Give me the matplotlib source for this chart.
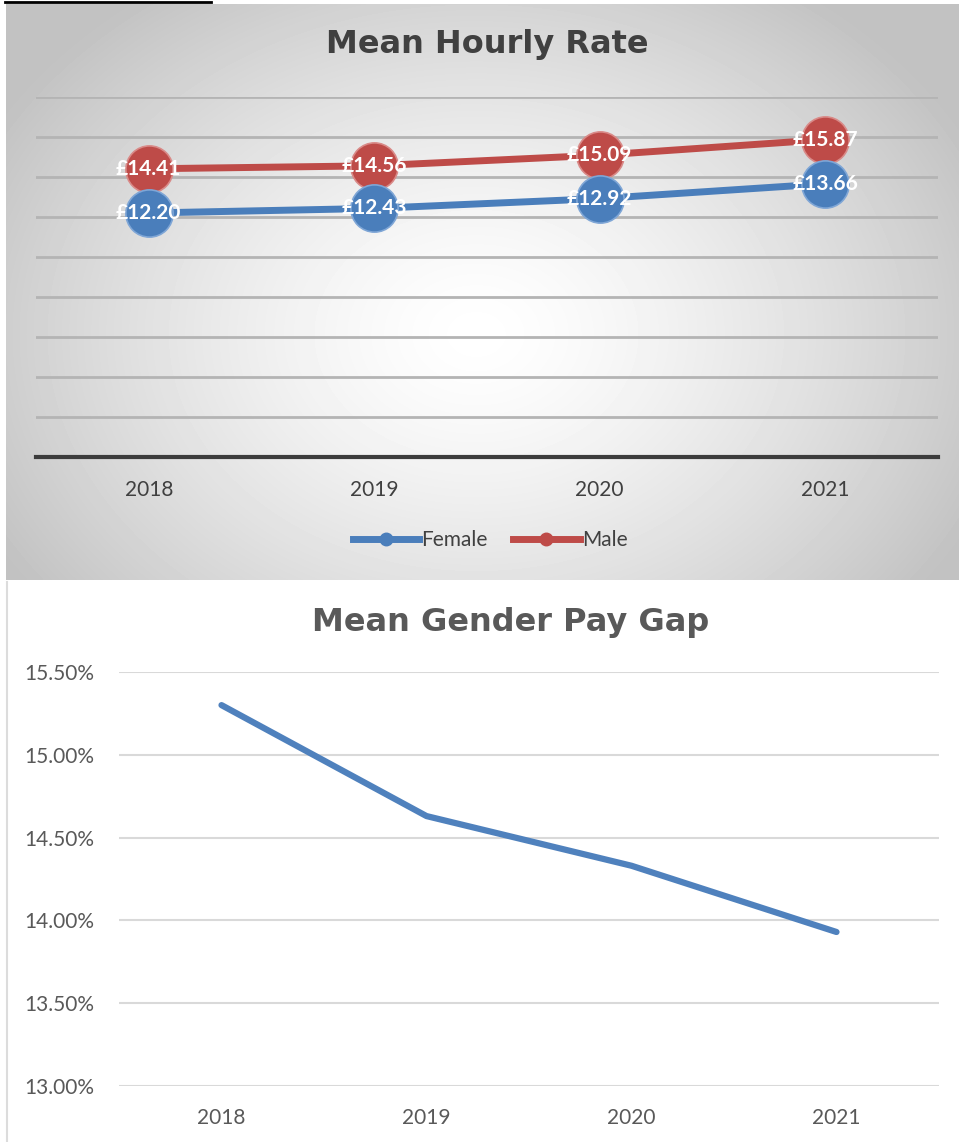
import numpy as np
import matplotlib
matplotlib.use("Agg")
import matplotlib.pyplot as plt
from matplotlib.lines import Line2D

years = ["2018", "2019", "2020", "2021"]
female_rate = [12.20, 12.43, 12.92, 13.66]
male_rate = [14.41, 14.56, 15.09, 15.87]
pay_gap = [15.30, 14.63, 14.33, 13.93]

rate_ticks = list(range(0, 20, 2))
gap_ticks = [13.0, 13.5, 14.0, 14.5, 15.0, 15.5]

BLUE = "#4a7ebb"
RED = "#be4b48"
W, H = 959, 1142
TXT = "Lato"


def px_rect(l, t, r, b):
    # pixel box (from top-left) -> figure fraction rect
    return [l / W, 1 - b / H, (r - l) / W, (b - t) / H]


fig = plt.figure(figsize=(W / 100, H / 100), dpi=100)

# grey radial gradient behind the top chart
bg = fig.add_axes(px_rect(6, 4, 959, 580))
yy, xx = np.mgrid[0:576, 0:953]
r = np.sqrt(((xx - 470) / 520) ** 2 + ((yy - 330) / 400) ** 2)
shade = np.clip(1 - 0.22 * r ** 1.4, 0.76, 1)
bg.imshow(shade, cmap="gray", vmin=0, vmax=1, aspect="auto", interpolation="bilinear")
bg.axis("off")

# leftover underline from the page text above
fig.add_artist(Line2D([5 / W, 211 / W], [1 - 1.5 / H] * 2, color="black", lw=2))

# ---- top chart: mean hourly rate ----
ax1 = fig.add_axes(px_rect(36, 97, 938, 457))
ax1.patch.set_alpha(0)
x = np.arange(len(years))
for vals, c, ec in [(male_rate, RED, "#d98a88"), (female_rate, BLUE, "#7fa6d6")]:
    ax1.plot(x, vals, color=c, lw=5, marker="o", ms=34, mfc=c, mec=ec, mew=1.2,
             zorder=3, clip_on=False, solid_capstyle="round")
for vals in [male_rate, female_rate]:
    for xi, v in zip(x, vals):
        ax1.text(xi, v, f"£{v:.2f}", color="white", fontweight="bold", fontsize=15,
                 family=TXT, ha="center", va="center", zorder=6)

ax1.set_xlim(-0.5, 3.5)
ax1.set_ylim(0, 18)
ax1.set_yticks(rate_ticks)
ax1.yaxis.grid(True, color="#b4b4b4", lw=2)
ax1.set_axisbelow(True)
ax1.set_xticks(x, years)
ax1.tick_params(left=False, labelleft=False, bottom=False, pad=13,
                labelsize=15, labelcolor="#404040")
for lab in ax1.get_xticklabels():
    lab.set_family(TXT)
for s in ["top", "left", "right"]:
    ax1.spines[s].set_visible(False)
ax1.spines["bottom"].set_color("#3c3c3c")
ax1.spines["bottom"].set_linewidth(3)

fig.text(487 / W, 1 - 45 / H, "Mean Hourly Rate", ha="center", va="center",
         fontsize=23, fontweight="bold", color="#404040", family="DejaVu Sans")

handles = [Line2D([], [], color=BLUE, lw=5, marker="o", ms=9),
           Line2D([], [], color=RED, lw=5, marker="o", ms=9)]
fig.legend(handles, ["Female", "Male"], loc="center", bbox_to_anchor=(490 / W, 1 - 540 / H),
           ncol=2, frameon=False, handlelength=3.2, handletextpad=0.1, columnspacing=1.2,
           prop={"family": TXT, "size": 15}, labelcolor="#404040")

# ---- bottom chart: mean gender pay gap ----
fig.add_artist(Line2D([7 / W, 7 / W], [0, 1 - 582 / H], color="#dcdcdc", lw=1.5))

ax2 = fig.add_axes(px_rect(119, 672, 939, 1086))
ax2.plot(x, pay_gap, color="#4f81bd", lw=4.5, solid_capstyle="round", zorder=3)
ax2.set_xlim(-0.5, 3.5)
ax2.set_ylim(13.0, 15.5)
ax2.set_yticks(gap_ticks, [f"{t:.2f}%" for t in gap_ticks])
ax2.yaxis.grid(True, color="#d9d9d9", lw=1.5)
ax2.set_axisbelow(True)
ax2.set_xticks(x, years)
ax2.tick_params(left=False, bottom=False, labelsize=15, labelcolor="#595959")
ax2.tick_params(axis="y", pad=14)
ax2.tick_params(axis="x", pad=12)
for lab in ax2.get_xticklabels() + ax2.get_yticklabels():
    lab.set_family(TXT)
for s in ax2.spines.values():
    s.set_visible(False)

fig.text(511 / W, 1 - 622 / H, "Mean Gender Pay Gap", ha="center", va="center",
         fontsize=23, fontweight="bold", color="#595959", family="DejaVu Sans")

fig.savefig("out.png", dpi=100)
